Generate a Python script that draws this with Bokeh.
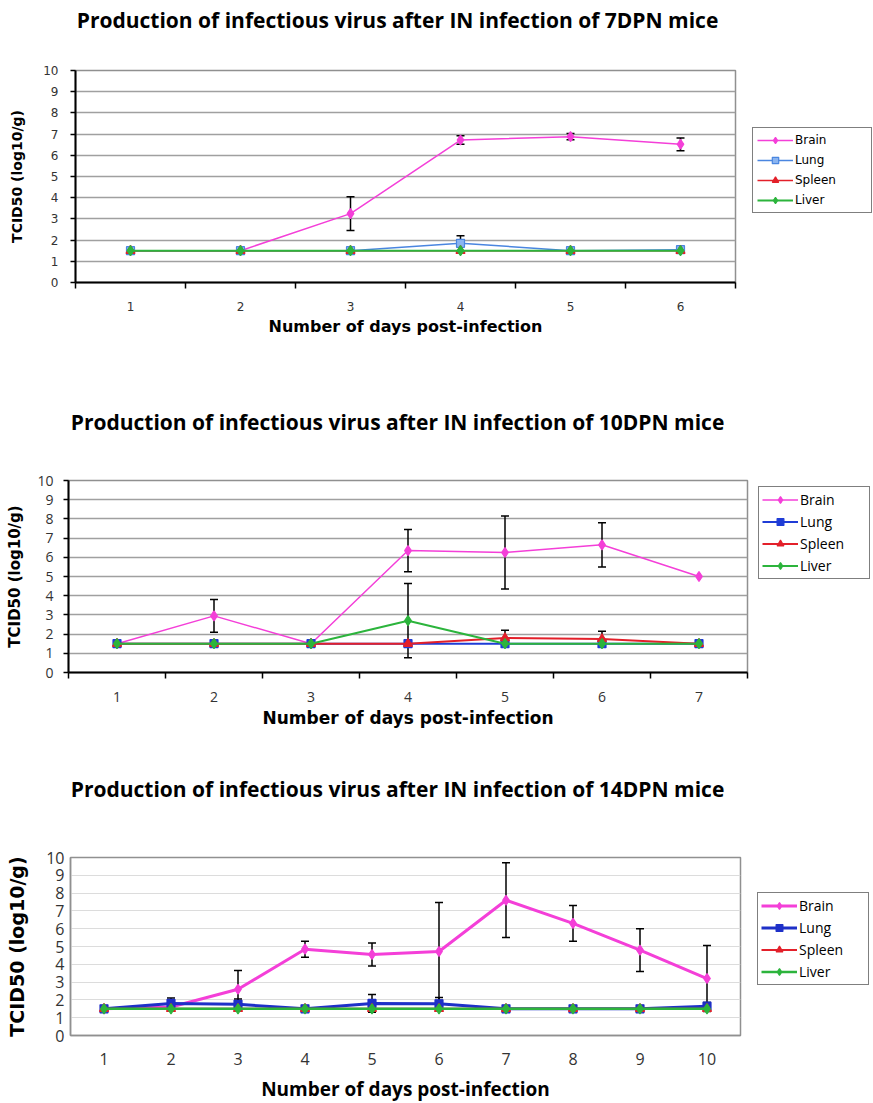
from bokeh.plotting import figure
from bokeh.models import (Range1d, FixedTicker, Legend, LegendItem, Whisker,
                          TeeHead, ColumnDataSource)
from bokeh.layouts import column, row
from bokeh.embed import file_html
from bokeh.resources import INLINE

# ---------------- data ----------------
titles = [
    "Production of infectious virus after IN infection of 7DPN mice",
    "Production of infectious virus after IN infection of 10DPN mice",
    "Production of infectious virus after IN infection of 14DPN mice",
]
x_title = "Number of days post-infection"
y_title = "TCID50 (log10/g)"
series_names = ["Brain", "Lung", "Spleen", "Liver"]

days_7 = [1, 2, 3, 4, 5, 6]
brain_7 = [1.5, 1.5, 3.25, 6.72, 6.88, 6.52]
brain_7_err = [0, 0, 0.8, 0.2, 0.15, 0.3]
lung_7 = [1.5, 1.5, 1.5, 1.85, 1.5, 1.55]
lung_7_err = [0, 0, 0, 0.35, 0, 0]
spleen_7 = [1.5, 1.5, 1.5, 1.5, 1.5, 1.5]
spleen_7_err = [0, 0, 0, 0, 0, 0]
liver_7 = [1.5, 1.5, 1.5, 1.5, 1.5, 1.5]
liver_7_err = [0, 0, 0, 0, 0, 0]

days_10 = [1, 2, 3, 4, 5, 6, 7]
brain_10 = [1.5, 2.95, 1.5, 6.35, 6.25, 6.65, 5.0]
brain_10_err = [0, 0.85, 0, 1.1, 1.9, 1.15, 0]
lung_10 = [1.5, 1.5, 1.5, 1.5, 1.5, 1.5, 1.5]
lung_10_err = [0, 0, 0, 0, 0, 0, 0]
spleen_10 = [1.5, 1.5, 1.5, 1.5, 1.8, 1.75, 1.5]
spleen_10_err = [0, 0, 0, 0, 0.4, 0.4, 0]
liver_10 = [1.5, 1.5, 1.5, 2.7, 1.5, 1.5, 1.5]
liver_10_err = [0, 0, 0, 1.93, 0, 0, 0]

days_14 = [1, 2, 3, 4, 5, 6, 7, 8, 9, 10]
brain_14 = [1.5, 1.6, 2.6, 4.85, 4.55, 4.72, 7.6, 6.3, 4.8, 3.2]
brain_14_err = [0, 0, 1.05, 0.45, 0.65, 2.75, 2.1, 1.0, 1.2, 1.85]
lung_14 = [1.5, 1.8, 1.75, 1.5, 1.8, 1.78, 1.5, 1.5, 1.5, 1.65]
lung_14_err = [0, 0.3, 0.3, 0, 0.5, 0.35, 0, 0, 0, 0.2]
spleen_14 = [1.5, 1.5, 1.5, 1.5, 1.5, 1.5, 1.5, 1.5, 1.5, 1.5]
spleen_14_err = [0, 0, 0, 0, 0, 0, 0, 0, 0, 0]
liver_14 = [1.5, 1.5, 1.5, 1.5, 1.5, 1.5, 1.5, 1.5, 1.5, 1.5]
liver_14_err = [0, 0, 0, 0, 0, 0, 0, 0, 0, 0]

# ---------------- styles ----------------
PAGE_W = 873
TITLE_H = 40
PINK = "#f43fd8"
RED = "#e3202a"
GREEN = "#2cb43c"

panels = [
    dict(title=titles[0], days=days_7,
         vals=[brain_7, lung_7, spleen_7, liver_7],
         errs=[brain_7_err, lung_7_err, spleen_7_err, liver_7_err],
         fw=660, fh=212, bl=75, bt=30, bb=120,
         colors=[PINK, "#4a86e0", RED, GREEN],
         fills=[PINK, "#8ab4f0", RED, GREEN],
         widths=[1.5, 1.5, 1.5, 2], grid="#a0a0a0", grid_w=1.5,
         leg_xy=(15, 69), leg_lw=72,
         leg_pad=4, leg_h=16, leg_sp=4,
         leg_font="DejaVu Sans", leg_size="12px",
         tick_font="DejaVu Sans", tick_size="12px",
         xt_font="DejaVu Sans", xt_size="16px",
         yt_size="14px", lab_standoff=13, ax_standoff=3,
         ylab_standoff=12, ytitle_standoff=15, frame_axes=False),
    dict(title=titles[1], days=days_10,
         vals=[brain_10, lung_10, spleen_10, liver_10],
         errs=[brain_10_err, lung_10_err, spleen_10_err, liver_10_err],
         fw=679, fh=192, bl=68, bt=38, bb=97,
         colors=[PINK, "#1f3cd6", RED, GREEN],
         fills=[PINK, "#1f3cd6", RED, GREEN],
         widths=[1.5, 2, 2, 2], grid="#a0a0a0", grid_w=1.5,
         leg_xy=(9, 93), leg_lw=66,
         leg_pad=3, leg_h=17, leg_sp=3,
         leg_font="Open Sans", leg_size="14px",
         tick_font="Open Sans", tick_size="14px",
         xt_font="DejaVu Sans", xt_size="17px",
         yt_size="15px", lab_standoff=13, ax_standoff=3,
         ylab_standoff=10, ytitle_standoff=10, frame_axes=False),
    dict(title=titles[2], days=days_14,
         vals=[brain_14, lung_14, spleen_14, liver_14],
         errs=[brain_14_err, lung_14_err, spleen_14_err, liver_14_err],
         fw=670, fh=178, bl=70, bt=48, bb=68,
         colors=[PINK, "#1e30c8", RED, GREEN],
         fills=[PINK, "#1e30c8", RED, GREEN],
         widths=[3, 3, 2, 2.5], grid="#dcdcdc", grid_w=1,
         leg_xy=(15, 50), leg_lw=66,
         leg_pad=3, leg_h=17, leg_sp=3,
         leg_font="Open Sans", leg_size="14px",
         tick_font="Open Sans", tick_size="16px",
         xt_font="Open Sans", xt_size="19px",
         yt_size="19px", lab_standoff=17, ax_standoff=8,
         ylab_standoff=6, ytitle_standoff=15, frame_axes=True),
]

markers = ["diamond", "square", "triangle", "diamond"]
msizes = [10, 8, 9, 10]


def draw_series(p, cfg, i, src):
    lr = p.line("x", "y", source=src, line_color=cfg["colors"][i],
                line_width=cfg["widths"][i])
    sr = p.scatter("x", "y", source=src, marker=markers[i],
                   size=msizes[i], line_color=cfg["colors"][i],
                   fill_color=cfg["fills"][i], line_width=1.2)
    return lr, sr


def make_title(cfg):
    left = cfg["bl"] - 8
    t = figure(width=PAGE_W, height=TITLE_H, output_backend="svg",
               toolbar_location=None, x_axis_location=None,
               y_axis_location=None, title=cfg["title"],
               min_border_left=left,
               min_border_right=PAGE_W - left - cfg["fw"],
               min_border_top=0, min_border_bottom=0)
    t.grid.visible = False
    t.outline_line_color = None
    t.title.align = "center"
    t.title.text_font = "Open Sans"
    t.title.text_font_style = "bold"
    t.title.text_font_size = "21px"
    t.title.text_color = "black"
    t.title.standoff = 7
    return t


def make_main(cfg):
    days = cfg["days"]
    n = len(days)
    p = figure(frame_width=cfg["fw"], frame_height=cfg["fh"], title=None,
               output_backend="svg", toolbar_location=None,
               x_range=Range1d(0.5, n + 0.5), y_range=Range1d(0, 10),
               min_border_left=cfg["bl"], min_border_right=2,
               min_border_top=cfg["bt"], min_border_bottom=cfg["bb"])
    p.background_fill_color = "white"
    p.border_fill_color = "white"
    p.outline_line_color = "#909090"
    p.outline_line_width = 1.5

    xa = p.below[0]
    ya = p.left[0]

    xa.ticker = FixedTicker(ticks=days,
                            minor_ticks=[d - 0.5 for d in days] + [n + 0.5])
    xa.axis_label = x_title
    xa.axis_label_text_font = cfg["xt_font"]
    xa.axis_label_text_font_size = cfg["xt_size"]
    xa.axis_label_text_font_style = "bold"
    xa.axis_label_text_color = "black"
    xa.axis_label_standoff = cfg["ax_standoff"]
    xa.major_label_text_font = cfg["tick_font"]
    xa.major_label_text_font_size = cfg["tick_size"]
    xa.major_label_text_color = "#333333"
    xa.major_label_standoff = cfg["lab_standoff"]
    xa.major_tick_out = 0
    xa.major_tick_in = 0
    xa.minor_tick_in = 0

    ya.ticker = FixedTicker(ticks=list(range(0, 11)))
    ya.axis_label = y_title
    ya.axis_label_text_font = "DejaVu Sans"
    ya.axis_label_text_font_style = "bold"
    ya.axis_label_text_font_size = cfg["yt_size"]
    ya.axis_label_text_color = "black"
    ya.axis_label_standoff = cfg["ytitle_standoff"]
    ya.major_label_text_font = cfg["tick_font"]
    ya.major_label_text_font_size = cfg["tick_size"]
    ya.major_label_text_color = "#333333"
    ya.major_label_standoff = cfg["ylab_standoff"]
    ya.minor_tick_line_color = None
    ya.major_tick_in = 0

    if cfg["frame_axes"]:
        for ax in (xa, ya):
            ax.axis_line_color = "#909090"
            ax.axis_line_width = 1.5
            ax.major_tick_line_color = None
            ax.minor_tick_line_color = None
            ax.major_tick_out = 0
            ax.minor_tick_out = 0
    else:
        for ax in (xa, ya):
            ax.axis_line_color = "black"
            ax.axis_line_width = 2
        ya.major_tick_out = 5
        ya.major_tick_line_width = 1.5
        ya.major_tick_line_color = "black"
        xa.minor_tick_out = 6
        xa.minor_tick_line_width = 1.5
        xa.minor_tick_line_color = "black"

    p.xgrid.grid_line_color = None
    p.ygrid.grid_line_color = cfg["grid"]
    p.ygrid.grid_line_width = cfg["grid_w"]
    p.ygrid.ticker = FixedTicker(ticks=list(range(1, 11)))

    for i, name in enumerate(series_names):
        vals = cfg["vals"][i]
        errs = cfg["errs"][i]
        src = ColumnDataSource(dict(x=days, y=vals))
        draw_series(p, cfg, i, src)
        ex = [d for d, e in zip(days, errs) if e > 0]
        if ex:
            ey = [v for v, e in zip(vals, errs) if e > 0]
            ee = [e for e in errs if e > 0]
            wsrc = ColumnDataSource(dict(
                x=ex, lo=[v - e for v, e in zip(ey, ee)],
                hi=[v + e for v, e in zip(ey, ee)]))
            w = Whisker(source=wsrc, base="x", lower="lo", upper="hi",
                        line_color="black", line_width=1.5,
                        upper_head=TeeHead(size=8, line_color="black",
                                           line_width=1.5),
                        lower_head=TeeHead(size=8, line_color="black",
                                           line_width=1.5))
            p.add_layout(w)
    return p


def make_legend(cfg):
    main_w = cfg["bl"] + cfg["fw"] + 2
    lf = figure(frame_width=PAGE_W - main_w, frame_height=cfg["fh"],
                output_backend="svg", toolbar_location=None,
                x_axis_location=None, y_axis_location=None, title=None,
                x_range=Range1d(100, 101), y_range=Range1d(100, 101),
                min_border_left=0, min_border_right=0,
                min_border_top=cfg["bt"], min_border_bottom=cfg["bb"])
    lf.grid.visible = False
    lf.outline_line_color = None
    items = []
    for i, name in enumerate(series_names):
        src = ColumnDataSource(dict(x=cfg["days"], y=cfg["vals"][i]))
        lr, sr = draw_series(lf, cfg, i, src)
        items.append(LegendItem(label=name, renderers=[lr, sr]))
    leg = Legend(items=items, location=cfg["leg_xy"])
    leg.border_line_color = "black"
    leg.border_line_width = 1.5
    leg.background_fill_color = "white"
    leg.label_text_font = cfg["leg_font"]
    leg.label_text_font_size = cfg["leg_size"]
    leg.label_text_color = "black"
    leg.glyph_width = 36
    leg.glyph_height = cfg["leg_h"]
    leg.label_height = cfg["leg_h"]
    leg.label_width = cfg["leg_lw"]
    leg.label_standoff = 2
    leg.spacing = cfg["leg_sp"]
    leg.padding = cfg["leg_pad"]
    leg.margin = 0
    lf.add_layout(leg, "center")
    return lf


blocks = []
for c in panels:
    blocks.append(make_title(c))
    blocks.append(row(make_main(c), make_legend(c), spacing=0))
layout = column(*blocks, spacing=0)
open("out.html", "w").write(file_html(layout, INLINE))
